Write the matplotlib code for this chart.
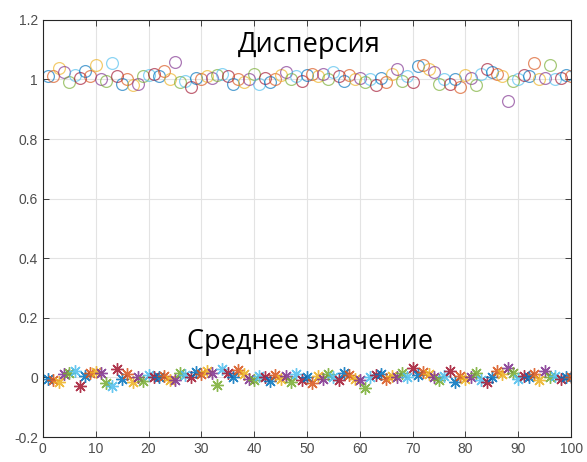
import numpy as np
import matplotlib
matplotlib.use("Agg")
import matplotlib.pyplot as plt

# Sample index
n = list(range(1, 101))

# Estimated variance for each run
variance = [1.010, 1.012, 1.040, 1.025, 0.990, 1.015, 1.005, 1.030, 1.010, 1.050,
            1.000, 0.995, 1.055, 1.010, 0.985, 1.000, 0.980, 0.985, 1.010, 1.015,
            1.020, 1.010, 1.030, 1.000, 1.060, 0.990, 0.995, 0.975, 1.005, 1.000,
            1.010, 1.005, 1.015, 1.020, 1.010, 0.985, 1.000, 0.990, 1.000, 1.020,
            0.985, 1.005, 0.990, 1.000, 1.015, 1.025, 1.000, 1.010, 0.995, 1.015,
            1.020, 1.010, 1.020, 1.000, 1.025, 1.010, 0.995, 1.015, 1.000, 1.005,
            0.990, 1.000, 0.980, 1.005, 0.990, 1.020, 1.035, 0.995, 1.010, 0.990,
            1.045, 1.050, 1.035, 1.025, 0.985, 1.000, 0.985, 1.000, 0.975, 1.015,
            1.005, 0.980, 1.020, 1.035, 1.025, 1.020, 1.010, 0.928, 0.995, 1.000,
            1.015, 1.010, 1.055, 1.000, 1.005, 1.048, 1.000, 1.005, 1.015, 1.010]

# Estimated mean for each run
mean = [-0.005, -0.010, -0.015, 0.012, 0.015, 0.020, -0.028, 0.005, 0.015, 0.018,
        0.015, -0.020, -0.030, 0.030, -0.005, 0.012, -0.015, 0.000, -0.012, 0.008,
        0.002, 0.000, 0.005, -0.008, -0.010, 0.015, 0.008, 0.002, 0.018, 0.010,
        0.020, 0.015, -0.025, 0.030, 0.015, 0.000, 0.025, 0.010, -0.005, -0.010,
        0.005, 0.000, -0.012, 0.008, -0.005, 0.005, -0.015, 0.010, -0.008, 0.000,
        -0.020, 0.005, -0.005, 0.010, 0.000, -0.010, 0.015, 0.008, -0.005, -0.010,
        -0.035, 0.000, 0.008, 0.012, -0.005, 0.005, 0.000, 0.015, 0.000, 0.032,
        0.008, 0.018, 0.010, 0.000, -0.008, 0.005, 0.021, -0.015, 0.005, -0.005,
        0.000, 0.015, -0.010, -0.015, 0.000, 0.020, 0.010, 0.032, 0.015, -0.005,
        0.005, 0.000, 0.010, -0.010, 0.020, 0.000, 0.005, -0.005, 0.000, 0.000]

x_ticks = list(range(0, 101, 10))
y_ticks = [-0.2, 0.0, 0.2, 0.4, 0.6, 0.8, 1.0, 1.2]
y_tick_labels = ["-0.2", "0", "0.2", "0.4", "0.6", "0.8", "1", "1.2"]

title_var = "Дисперсия"
title_mean = "Среднее значение"

colors = ["#0072BD", "#D95319", "#EDB120", "#7E2F8E",
          "#77AC30", "#4DBEEE", "#A2142F"]

fig = plt.figure(figsize=(5.87, 4.62), dpi=100)
ax = fig.add_axes([0.073, 0.054, 0.9, 0.903])

for i, (xi, v, m) in enumerate(zip(n, variance, mean)):
    c = colors[i % len(colors)]
    ax.plot(xi, v, linestyle="none", marker="o", markersize=8.5,
            markerfacecolor="none", markeredgecolor=c, markeredgewidth=0.9,
            alpha=0.65)
    ax.plot(xi, m, linestyle="none", marker=(8, 2, 0), markersize=9,
            markeredgecolor=c, markeredgewidth=1.0, alpha=0.85)

ax.set_xlim(0, 100)
ax.set_ylim(-0.2, 1.2)
ax.set_xticks(x_ticks)
ax.set_yticks(y_ticks)
ax.set_yticklabels(y_tick_labels)
ax.grid(True, color="#e3e3e3", linewidth=0.8)
ax.set_axisbelow(True)
ax.tick_params(direction="in", length=4, width=0.6, colors="#262626",
               labelcolor="#4d4d4d", labelsize=10, top=True, right=True,
               labeltop=False, labelright=False)
for lbl in ax.get_xticklabels() + ax.get_yticklabels():
    lbl.set_family("Liberation Sans")
for sp in ax.spines.values():
    sp.set_color("#262626")
    sp.set_linewidth(0.8)

ax.text(50.5, 1.117, title_var, ha="center", va="center", fontsize=19.5,
        family="Open Sans", color="black")
ax.text(50.5, 0.118, title_mean, ha="center", va="center", fontsize=19.5,
        family="Open Sans", color="black")

fig.savefig("out.png", dpi=100, facecolor="white")
